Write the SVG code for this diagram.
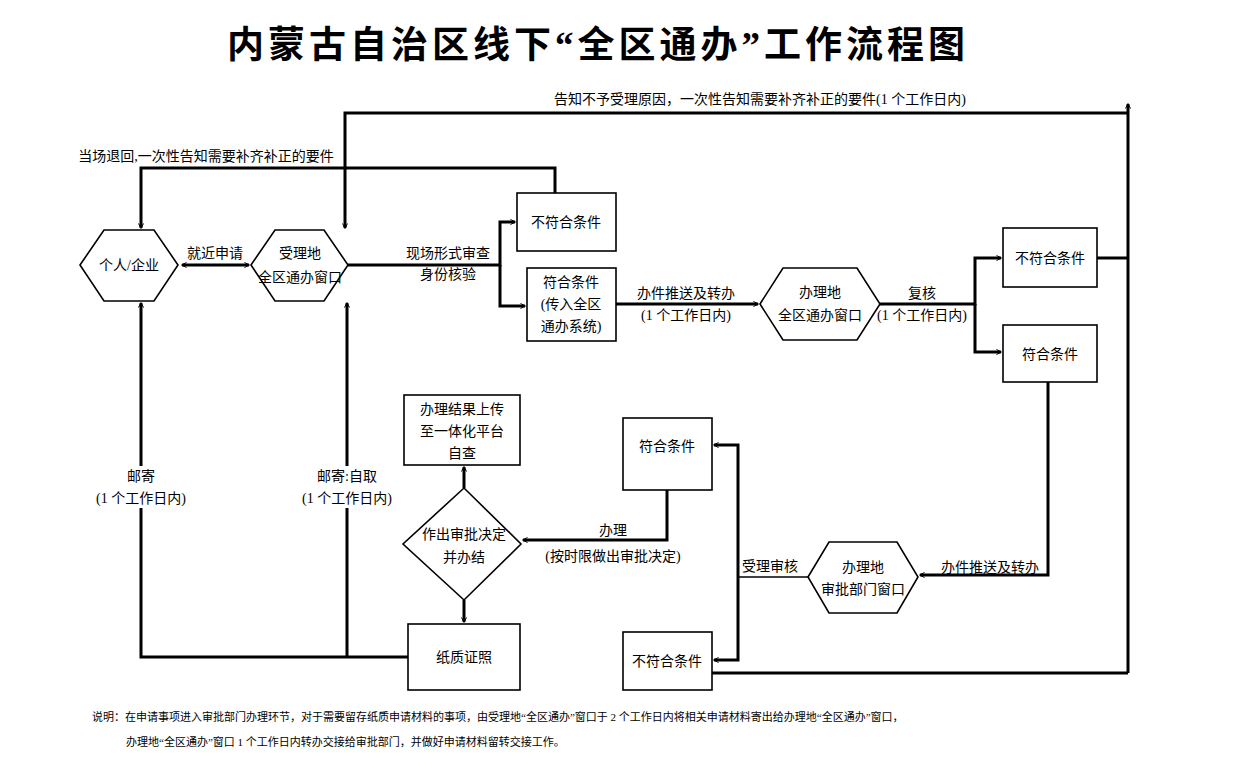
<svg xmlns="http://www.w3.org/2000/svg" width="1258" height="762" viewBox="0 0 1258 762">
<defs>
<marker id="a" viewBox="0 0 10 10" refX="9" refY="5" markerWidth="5" markerHeight="5" orient="auto-start-reverse" markerUnits="userSpaceOnUse" style="overflow:visible"><path d="M0,0 L10,5 L0,10" fill="none" stroke="#000" stroke-width="2"/></marker>
<style>
.s{fill:#fff;stroke:#000;stroke-width:1.6}
.c{fill:none;stroke:#000;stroke-width:3}
.t{font-family:"Liberation Serif","Noto Sans CJK SC",serif;font-size:14px;fill:#000;text-anchor:middle}
.f{font-family:"Liberation Serif","Noto Sans CJK SC",serif;font-size:11px;fill:#000}
.h{font-family:"Liberation Serif","Noto Sans CJK SC",serif;font-size:37px;font-weight:bold;text-anchor:middle;letter-spacing:4px}
.bg{fill:#fff}
</style>
</defs>
<rect width="1258" height="762" fill="#fff"/>
<text class="h" x="598" y="58">内蒙古自治区线下“全区通办”工作流程图</text>
<g id="connectors">
<path class="c" d="M555,193 V168 H141 V228" marker-end="url(#a)"/>
<path class="c" d="M1128,113 H345 V228" marker-end="url(#a)"/>
<path class="c" d="M1128,673 V104" marker-end="url(#a)"/>
<path class="c" d="M182,265 H249" marker-start="url(#a)" marker-end="url(#a)"/>
<path class="c" d="M348,265 H500 V222 H515" marker-end="url(#a)"/>
<path class="c" d="M500,265 V306 H525" marker-end="url(#a)"/>
<path class="c" d="M616,304 H758" marker-end="url(#a)"/>
<path class="c" d="M880,304 H975 V258 H1001" marker-end="url(#a)"/>
<path class="c" d="M975,304 V352 H1001" marker-end="url(#a)"/>
<path class="c" d="M1097,258 H1128"/>
<path class="c" d="M712,673 H1128"/>
<path class="c" d="M1048,382 V575 H920" marker-end="url(#a)"/>
<path class="c" d="M808,577 H738" style="stroke-width:1.6"/>
<path class="c" d="M738,577 V445 H714" marker-end="url(#a)"/>
<path class="c" d="M738,577 V660 H714" marker-end="url(#a)"/>
<path class="c" d="M667,490 V540 H523" marker-end="url(#a)"/>
<path class="c" d="M464,488 V467" marker-end="url(#a)"/>
<path class="c" d="M464,600 V622" marker-end="url(#a)"/>
<path class="c" d="M408,657 H141 V303" marker-end="url(#a)"/>
<path class="c" d="M347,657 V303" marker-end="url(#a)"/>
</g>
<g id="n1"><polygon class="s" points="80,265 104,230 154,230 178,265 154,301 104,301"/><text class="t" x="129" y="270">个人/企业</text></g>
<g id="n2"><polygon class="s" points="251,265 275,230 324,230 348,265 324,301 275,301"/><text class="t" x="300" y="258">受理地</text><text class="t" x="300" y="282">全区通办窗口</text></g>
<g id="n3"><rect class="s" x="517" y="193" width="99" height="58"/><text class="t" x="566" y="227">不符合条件</text></g>
<g id="n4"><rect class="s" x="527" y="268" width="89" height="73"/><text class="t" x="571" y="287">符合条件</text><text class="t" x="571" y="309">(传入全区</text><text class="t" x="571" y="331">通办系统)</text></g>
<g id="n5"><polygon class="s" points="760,304 783,268 857,268 880,304 857,340 783,340"/><text class="t" x="820" y="297">办理地</text><text class="t" x="820" y="320">全区通办窗口</text></g>
<g id="n6"><rect class="s" x="1003" y="228" width="94" height="59"/><text class="t" x="1050" y="263">不符合条件</text></g>
<g id="n7"><rect class="s" x="1003" y="325" width="94" height="57"/><text class="t" x="1050" y="359">符合条件</text></g>
<g id="n8"><polygon class="s" points="808,577 829,542 897,542 918,577 897,613 829,613"/><text class="t" x="863" y="572">办理地</text><text class="t" x="863" y="594">审批部门窗口</text></g>
<g id="n9"><rect class="s" x="623" y="418" width="89" height="72"/><text class="t" x="667" y="451">符合条件</text></g>
<g id="n10"><rect class="s" x="623" y="632" width="89" height="58"/><text class="t" x="667" y="666">不符合条件</text></g>
<g id="n11"><polygon class="s" points="464,488 521,544 464,600 403,544"/><text class="t" x="464" y="539">作出审批决定</text><text class="t" x="464" y="562">并办结</text></g>
<g id="n12"><rect class="s" x="404" y="395" width="116" height="70"/><text class="t" x="462" y="414">办理结果上传</text><text class="t" x="462" y="436">至一体化平台</text><text class="t" x="462" y="458">自查</text></g>
<g id="n13"><rect class="s" x="408" y="624" width="112" height="66"/><text class="t" x="464" y="662">纸质证照</text></g>
<g id="labels">
<text class="t" x="760" y="104">告知不予受理原因，一次性告知需要补齐补正的要件(1 个工作日内)</text>
<text class="t" x="206" y="161">当场退回,一次性告知需要补齐补正的要件</text>
<text class="t" x="215" y="258">就近申请</text>
<text class="t" x="448" y="258">现场形式审查</text>
<text class="t" x="448" y="279">身份核验</text>
<text class="t" x="686" y="298">办件推送及转办</text>
<text class="t" x="686" y="320">(1 个工作日内)</text>
<text class="t" x="922" y="298">复核</text>
<text class="t" x="922" y="320">(1 个工作日内)</text>
<text class="t" x="770" y="571">受理审核</text>
<text class="t" x="990" y="572">办件推送及转办</text>
<text class="t" x="613" y="535">办理</text>
<text class="t" x="613" y="561">(按时限做出审批决定)</text>
<rect class="bg" x="90" y="466" width="102" height="42"/>
<rect class="bg" x="296" y="466" width="102" height="42"/>
<text class="t" x="141" y="481">邮寄</text>
<text class="t" x="141" y="503">(1 个工作日内)</text>
<text class="t" x="347" y="481">邮寄:自取</text>
<text class="t" x="347" y="503">(1 个工作日内)</text>
<text class="f" x="92" y="721">说明：在申请事项进入审批部门办理环节，对于需要留存纸质申请材料的事项，由受理地“全区通办”窗口于 2 个工作日内将相关申请材料寄出给办理地“全区通办”窗口，</text>
<text class="f" x="126" y="746">办理地“全区通办”窗口 1 个工作日内转办交接给审批部门，并做好申请材料留转交接工作。</text>
</g>
</svg>
